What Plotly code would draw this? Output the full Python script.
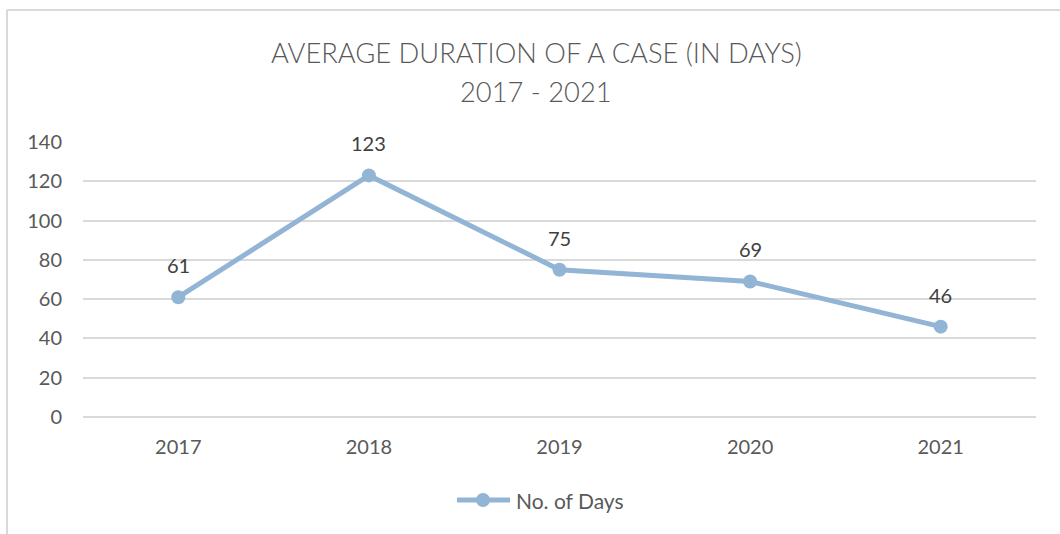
import plotly.graph_objects as go

years = ["2017", "2018", "2019", "2020", "2021"]
days = [61, 123, 75, 69, 46]
series_name = "No. of Days"
title_lines = ["AVERAGE DURATION OF A CASE (IN DAYS)", "2017 - 2021"]
y_ticks = [0, 20, 40, 60, 80, 100, 120, 140]

line_color = "#92B4D5"
text_color = "#595959"
label_color = "#404040"
font_family = "Lato, Open Sans, sans-serif"

W, H = 1060, 534
ML, MR, MT, MB = 83, 24, 142, 117
PW, PH = W - ML - MR, H - MT - MB


def px_x(x):
    return (x - ML) / PW


def px_y(y):
    return (H - MB - y) / PH


fig = go.Figure()
fig.add_trace(go.Scatter(
    x=years, y=days, name=series_name,
    mode="lines+markers",
    line=dict(color=line_color, width=5),
    marker=dict(color=line_color, size=14),
    cliponaxis=False, showlegend=False,
))

# value labels above each point (category axis positions by index)
annotations = [
    dict(x=i, y=v, xref="x", yref="y", text=str(v), showarrow=False,
         yshift=32, font=dict(size=20, color=label_color, family=font_family))
    for i, v in enumerate(days)
]
for line, cy in zip(title_lines, [53, 92]):
    annotations.append(dict(
        x=px_x(536), xref="paper", xanchor="center", y=px_y(cy), yref="paper",
        yanchor="middle", text=line, showarrow=False,
        font=dict(size=27.3, color=text_color, family=font_family, weight=300),
    ))

# legend entry below the plot
leg_y = 500
annotations.append(dict(
    x=px_x(514), xref="paper", xanchor="left", y=px_y(leg_y), yref="paper",
    yanchor="middle", text=series_name, showarrow=False,
    font=dict(size=21, color=text_color, family=font_family),
))
legend_shapes = [
    dict(type="line", xref="paper", yref="paper",
         x0=px_x(457), x1=px_x(510), y0=px_y(leg_y), y1=px_y(leg_y),
         line=dict(color=line_color, width=5)),
    dict(type="circle", xref="paper", yref="paper",
         x0=px_x(476), x1=px_x(490), y0=px_y(leg_y - 7), y1=px_y(leg_y + 7),
         fillcolor=line_color, line=dict(width=0)),
]

fig.update_layout(
    width=W, height=H,
    paper_bgcolor="white", plot_bgcolor="white",
    margin=dict(l=ML, r=MR, t=MT, b=MB, autoexpand=False),
    font=dict(family=font_family, color=text_color),
    showlegend=False,
    xaxis=dict(
        type="category", showgrid=False, zeroline=False, showline=False,
        ticks="", tickfont=dict(size=20, color=text_color),
        range=[-0.5, 4.5], ticklabelstandoff=16,
    ),
    yaxis=dict(
        range=[0, 140], tickvals=y_ticks, showgrid=True,
        gridcolor="#D9D9D9", gridwidth=1.5, zeroline=True,
        zerolinecolor="#D9D9D9", zerolinewidth=1.5,
        showline=False, ticks="", ticklabelstandoff=20,
        tickfont=dict(size=20, color=text_color),
    ),
    annotations=annotations,
    shapes=[
        dict(type="line", xref="paper", yref="paper",
             x0=px_x(7), x1=px_x(1070), y0=px_y(10), y1=px_y(10),
             line=dict(color="#D9D9D9", width=2)),
        dict(type="line", xref="paper", yref="paper",
             x0=px_x(7), x1=px_x(7), y0=px_y(10), y1=px_y(545),
             line=dict(color="#D9D9D9", width=2)),
    ] + legend_shapes,
)

fig.write_html("out.html")
